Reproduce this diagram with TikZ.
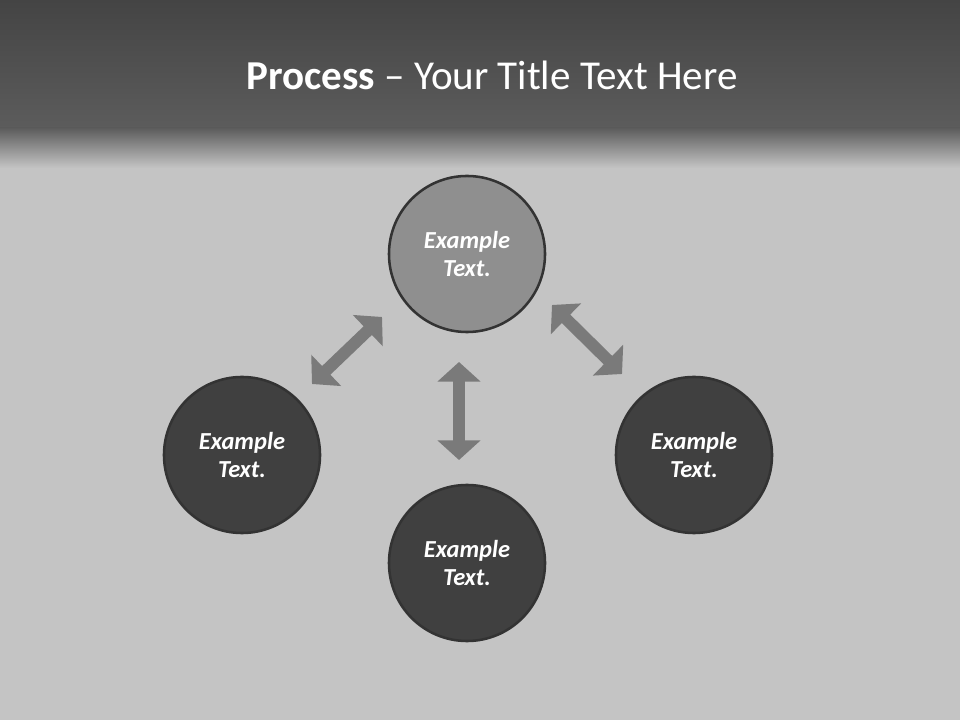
\documentclass[tikz,border=0pt]{standalone}
\usepackage{fontspec}
\setmainfont{Carlito}
\usetikzlibrary{arrows.meta}

\definecolor{bgGrey}{HTML}{C4C4C4}
\definecolor{bandTop}{HTML}{444444}
\definecolor{bandBottom}{HTML}{5C5C5C}
\definecolor{ringGrey}{HTML}{333333}
\definecolor{lightFill}{HTML}{8F8F8F}
\definecolor{darkFill}{HTML}{404040}
\definecolor{arrowGrey}{HTML}{7A7A7A}

\tikzset{
    stage/.style = {circle, minimum size = 3.9cm, draw = ringGrey, line width = 1.8pt,
            text = white, font = \fontsize{17.4}{20.5}\selectfont\bfseries\itshape, align = center},
    dblarrow/.style = {{Triangle[width = 30pt, length = 14pt]}-{Triangle[width = 30pt, length = 14pt]},
            line width = 8.5pt, draw = arrowGrey}
}

\begin{document}
\begin{tikzpicture}[x = 0.025cm, y = -0.025cm]

        \useasboundingbox (0, 0) rectangle (960, 720);

        % background and title band
        \fill[bgGrey] (0, 0) rectangle (960, 720);
        \shade[top color = bandTop, bottom color = bandBottom] (0, 0) rectangle (960, 128);
        \shade[top color = bandBottom, bottom color = bgGrey] (0, 128) rectangle (960, 168);

        \node[text = white, font = \fontsize{29.2}{34}\selectfont] (title) at (492, 75)
            {\textbf{Process} – Your Title Text Here};

        % the four circles
        \node[stage, fill = lightFill] (top) at (467, 254) {Example\\Text.};
        \node[stage, fill = darkFill] (left) at (242, 455) {Example\\Text.};
        \node[stage, fill = darkFill] (right) at (694, 455) {Example\\Text.};
        \node[stage, fill = darkFill] (bottom) at (467, 563) {Example\\Text.};

        % arrow ends
        \coordinate (leftA) at (312, 384);
        \coordinate (leftB) at (382, 317);
        \coordinate (midA) at (459, 362);
        \coordinate (midB) at (459, 460);
        \coordinate (rightA) at (552, 305);
        \coordinate (rightB) at (622, 374);

        \draw[dblarrow] (leftA) -- (leftB);
        \draw[dblarrow] (midA) -- (midB);
        \draw[dblarrow] (rightA) -- (rightB);

    \end{tikzpicture}
\end{document}
